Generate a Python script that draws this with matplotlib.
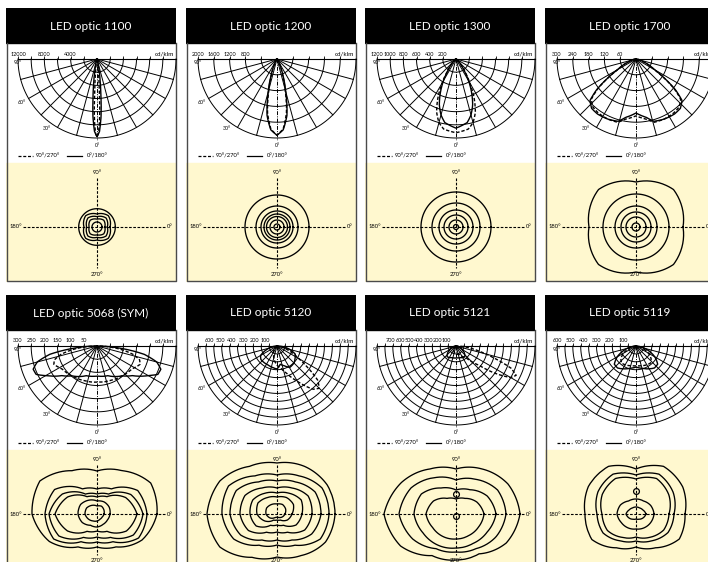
import numpy as np
import matplotlib.pyplot as plt
from matplotlib.patches import Rectangle

plt.rcParams['font.family'] = ['Lato', 'DejaVu Sans']

# ---------------- data ----------------
titles = ['LED optic 1100', 'LED optic 1200', 'LED optic 1300', 'LED optic 1700',
          'LED optic 5068 (SYM)', 'LED optic 5120', 'LED optic 5121', 'LED optic 5119']
ring_max = [12000, 2000, 1200, 300, 300, 700, 850, 600]
ring_step = [2000, 400, 200, 60, 50, 70, 85, 60]
ring_labels = [[12000, 8000, 4000], [2000, 1600, 1200, 800],
               [1200, 1000, 800, 600, 400, 200], [300, 240, 180, 120, 60],
               [300, 250, 200, 150, 100, 50], [600, 500, 400, 300, 200, 100],
               [700, 600, 500, 400, 300, 200, 100], [600, 500, 400, 300, 200, 100]]

# intensity curves, angle from nadir in degrees (cd/klm)
# symmetric ones are given for 0..90 only
s1100_a = [0, 2, 4, 6, 8, 11, 15, 20, 30, 90]
s1100_v = [11800, 11000, 8800, 5800, 3500, 1500, 500, 120, 20, 0]
d1100_a = [0, 1, 2, 3, 4, 5, 7, 10, 15, 90]
d1100_v = [11800, 11400, 10000, 8000, 5200, 3500, 1500, 400, 100, 0]

s1200_a = [0, 5, 10, 15, 20, 25, 30, 40, 90]
s1200_v = [1930, 1800, 1450, 850, 430, 200, 90, 25, 0]
d1200_a = [0, 5, 10, 15, 20, 25, 30, 40, 90]
d1200_v = [1930, 1780, 1380, 780, 380, 170, 70, 20, 0]

s1300_a = [0, 10, 15, 20, 25, 30, 35, 40, 50, 60, 90]
s1300_v = [1050, 980, 880, 740, 560, 380, 220, 120, 40, 10, 0]
d1300_a = [0, 10, 15, 20, 25, 30, 35, 40, 50, 60, 90]
d1300_v = [1120, 1080, 1000, 860, 650, 420, 240, 120, 35, 8, 0]

s1700_a = [0, 10, 16, 25, 35, 42, 48, 52, 56, 60, 70, 80, 90]
s1700_v = [205, 225, 246, 252, 255, 252, 235, 190, 130, 80, 28, 8, 0]
d1700_a = [0, 10, 16, 25, 35, 42, 48, 52, 56, 60, 70, 80, 90]
d1700_v = [216, 232, 250, 252, 250, 245, 228, 185, 128, 78, 28, 8, 0]

s5068_a = [0, 20, 40, 50, 60, 65, 70, 75, 80, 85, 90]
s5068_v = [114, 120, 148, 175, 225, 255, 258, 235, 182, 80, 0]
d5068_a = [0, 20, 40, 57, 67, 72, 77, 82, 87, 90]
d5068_v = [137, 140, 148, 159, 178, 170, 140, 90, 30, 0]

# asymmetric ones: -90 (left) .. 90 (right)
s5120_a = [-90, -75, -60, -50, -40, -25, -10, 0, 10, 20, 31, 45, 55, 66, 75, 85, 90]
s5120_v = [0, 71, 168, 186, 186, 186, 195, 204, 164, 186, 221, 213, 195, 177, 115, 44, 0]
d5120_a = [-90, -60, -45, -30, -20, -10, 0, 10, 20, 30, 40, 45, 50, 55, 60, 70, 80, 90]
d5120_v = [0, 15, 30, 60, 90, 130, 170, 200, 260, 360, 500, 530, 470, 330, 220, 100, 35, 0]

s5121_a = [-90, -70, -50, -40, -30, -20, 0, 20, 30, 40, 50, 70, 90]
s5121_v = [0, 43, 118, 150, 144, 133, 129, 133, 144, 150, 118, 43, 0]
d5121_a = [-90, -45, -20, 0, 20, 40, 50, 55, 60, 64, 68, 72, 76, 82, 90]
d5121_v = [0, 32, 64, 85, 96, 160, 320, 510, 680, 720, 640, 450, 300, 140, 0]

s5119_a = [0, 15, 30, 40, 50, 60, 70, 80, 90]
s5119_v = [160, 175, 200, 218, 215, 165, 100, 35, 0]
d5119_a = [0, 15, 30, 40, 50, 60, 70, 80, 90]
d5119_v = [150, 155, 165, 170, 150, 110, 55, 18, 0]

solid = [(s1100_a, s1100_v, True), (s1200_a, s1200_v, True), (s1300_a, s1300_v, True),
         (s1700_a, s1700_v, True), (s5068_a, s5068_v, True), (s5120_a, s5120_v, False),
         (s5121_a, s5121_v, False), (s5119_a, s5119_v, True)]
dashed = [(d1100_a, d1100_v, True), (d1200_a, d1200_v, True), (d1300_a, d1300_v, True),
          (d1700_a, d1700_v, True), (d5068_a, d5068_v, True), (d5120_a, d5120_v, False),
          (d5121_a, d5121_v, False), (d5119_a, d5119_v, True)]

# isolux contours: radius (px of the small diagram) at equally spaced angles,
# starting at 0deg (right) counter-clockwise
iso_1100 = [[18.3], [13, 16, 13, 16, 13, 16, 13, 16], [10.3, 12.8, 10.3, 12.8, 10.3, 12.8, 10.3, 12.8],
            [7.8, 9.6, 7.8, 9.6, 7.8, 9.6, 7.8, 9.6], [5]]
iso_1200 = [[32], [21], [16], [13], [10.5], [7], [3]]
iso_1300 = [[35], [24], [17], [12], [7], [2.5]]
iso_1700 = [[47, 53, 45, 53, 47, 53, 45, 53], [33], [21], [15], [10], [4]]
iso_5068 = [[60, 62, 50, 43, 50, 66, 65, 55, 38, 33, 38, 52],
            [50, 47, 29, 25, 29, 49, 52, 50, 32, 28, 32, 48],
            [46, 39, 23, 20, 23, 40, 48, 44, 27, 23, 27, 42],
            [40, 33, 20, 17, 20, 34, 42, 34, 20, 17, 20, 34],
            [13, 14, 14, 13, 16, 19, 19, 17, 13, 13, 12, 12],
            [7, 8, 9, 8, 10, 12, 12, 10, 8, 7, 6, 6]]
iso_5120 = [[58, 58, 55, 51, 55, 66, 70, 66, 50, 43, 48, 56],
            [52, 52, 44, 39, 44, 56, 55, 50, 36, 31, 36, 50],
            [44, 44, 37, 33, 37, 47, 47, 42, 30, 26, 30, 40],
            [35, 36, 30, 26, 30, 37, 37, 33, 21, 18, 21, 32],
            [25, 28, 24, 21, 24, 28, 27, 24, 13, 11, 13, 22],
            [15, 19, 19, 17, 19, 22, 20, 14, 7, 6, 7, 12],
            [8, 10, 11, 10, 11, 12, 11, 8, 4, 3, 4, 6]]
iso_5121 = [[64, 60, 52, 45, 52, 63, 72, 64, 48, 46, 46, 58],
            [50, 48, 40, 34, 42, 52, 57, 50, 40, 38, 40, 46],
            [40, 36, 28, 24, 30, 40, 42, 38, 36, 34, 34, 36],
            [28, 24, 18, 15, 18, 26, 30, 27, 26, 25, 25, 26]]
iso_5119 = [[49, 54, 55, 45, 55, 55, 51, 51, 39, 33, 39, 50],
            [38, 43, 46, 39, 46, 44, 39, 38, 31, 27, 31, 37],
            [33, 38, 41, 35, 41, 39, 34, 33, 27, 23, 27, 32],
            [18, 17, 15, 15, 15, 18, 19, 17, 16, 15, 16, 17],
            [10, 8, 7, 7, 7, 8, 10, 8, 6, 5, 6, 8]]
isolux = [iso_1100, iso_1200, iso_1300, iso_1700, iso_5068, iso_5120, iso_5121, iso_5119]
# small closed loops: (angle deg, radius px)
spots = [[], [], [], [], [], [], [(90, 20), (270, 2)], [(90, 23)]]

# ---------------- layout ----------------
W, H = 708, 562
PW, PH = 170, 274
col_x = [6, 186, 365, 545]
row_y = [8, 295]
CX, CY_TOP, R_TOP, CY_ISO = 91, 51, 79, 219
YELLOW = '#FFF8CF'
DASH = (2.4, 1.4)

fig = plt.figure(figsize=(W / 100, H / 100), dpi=100)


def px_axes(x, y, w, h, **kw):
    return fig.add_axes([x / W, 1 - (y + h) / H, w / W, h / H], **kw)


def smooth(line, steps=24):
    line.get_path()._interpolation_steps = steps


def full_curve(a, v, sym):
    a = np.asarray(a, float)
    v = np.asarray(v, float)
    if sym:
        a = np.concatenate([-a[::-1], a[1:]])
        v = np.concatenate([v[::-1], v[1:]])
    return np.radians(a), v


for i in range(8):
    x0, y0 = col_x[i % 4], row_y[i // 4]

    bg = px_axes(x0, y0, PW, PH)
    bg.set_xlim(0, PW)
    bg.set_ylim(PH, 0)
    bg.axis('off')
    bg.add_patch(Rectangle((0, 0), PW, 35, color='black'))
    bg.add_patch(Rectangle((0, 155), PW, PH - 155, color=YELLOW))
    bg.plot([0.5, 0.5, PW - 0.5, PW - 0.5], [35, PH - 0.6, PH - 0.6, 35],
            color='#4a4a4a', lw=1.0, clip_on=False)
    bg.text(PW / 2, 18, titles[i], color='white', ha='center', va='center', fontsize=8.5)

    rmax = ring_max[i]
    rings = np.arange(1, int(round(rmax / ring_step[i])) + 1) * ring_step[i]
    # scale labels
    for lab in ring_labels[i]:
        bg.text(CX - lab / rmax * R_TOP, 46, str(lab), ha='center', va='center', fontsize=4.0)
    bg.text(PW - 2, 46, 'cd/klm', ha='right', va='center', fontsize=4.5)
    for r in rings:
        rp = r / rmax * R_TOP
        bg.vlines([CX - rp, CX + rp], CY_TOP - 3, CY_TOP, color='k', lw=0.6)
    bg.text(7.5, 55, '90°', ha='left', va='center', fontsize=3.8)
    bg.text(12, 94, '60°', ha='left', va='center', fontsize=3.8)
    bg.text(37, 120, '30°', ha='left', va='center', fontsize=3.8)
    bg.text(CX, 137.5, '0°', ha='center', va='center', fontsize=3.8)

    # legend
    bg.plot([12, 27], [148, 148], color='k', lw=0.9, dashes=DASH)
    bg.text(30, 148, '90°/270°', ha='left', va='center', fontsize=4.2)
    bg.plot([61, 76], [148, 148], color='k', lw=0.9)
    bg.text(81, 148, '0°/180°', ha='left', va='center', fontsize=4.2)

    # isolux cross
    bg.plot([CX - 74, CX + 68], [CY_ISO, CY_ISO], color='k', lw=0.8, dashes=DASH)
    bg.plot([CX, CX], [CY_ISO - 49, CY_ISO + 41], color='k', lw=0.8, dashes=DASH)
    bg.text(CX, CY_ISO - 54, '90°', ha='center', va='center', fontsize=4.2)
    bg.text(CX, CY_ISO + 47, '270°', ha='center', va='center', fontsize=4.2)
    bg.text(4, CY_ISO, '180°', ha='left', va='center', fontsize=4.2)
    bg.text(161, CY_ISO, '0°', ha='left', va='center', fontsize=4.2)

    # polar intensity diagram
    Rb = 82
    pax = px_axes(x0 + CX - Rb, y0 + CY_TOP - Rb, 2 * Rb, 2 * Rb, projection='polar')
    pax.set_theta_zero_location('S')
    pax.set_rlim(0, rmax * Rb / R_TOP)
    pax.axis('off')
    th = np.radians(np.linspace(-90, 90, 91))
    for r in rings:
        pax.plot(th, np.full_like(th, r), color='k', lw=0.7)
    for a in (15, 30, 45, 60, 75):
        for s in (-1, 1):
            pax.plot([np.radians(s * a)] * 2, [0, rmax], color='k', lw=0.7)
    for s in (-1, 1):
        pax.plot([np.radians(s * 90)] * 2, [0, rmax], color='k', lw=0.8)
    pax.plot([0, 0], [0, rmax * 1.035], color='k', lw=0.7, dashes=(4, 1.3, 1, 1.3))

    t, v = full_curve(*solid[i])
    ln, = pax.plot(t, v, color='k', lw=1.0)
    smooth(ln)
    t, v = full_curve(*dashed[i])
    ln, = pax.plot(t, v, color='k', lw=1.0, dashes=DASH)
    smooth(ln)

    # isolux diagram
    Rc = 80
    cax = px_axes(x0 + CX - Rc, y0 + CY_ISO - Rc, 2 * Rc, 2 * Rc, projection='polar')
    cax.set_rlim(0, Rc)
    cax.axis('off')
    for vals in isolux[i]:
        n = len(vals)
        if n == 1:
            tt = np.radians(np.linspace(0, 360, 73))
            rr = np.full_like(tt, vals[0])
        else:
            tt = np.radians(np.arange(n + 1) * 360 / n)
            rr = list(vals) + [vals[0]]
        ln, = cax.plot(tt, rr, color='k', lw=0.95)
        smooth(ln, 30)
    for ang, rad in spots[i]:
        cax.plot(np.radians(ang), rad, 'o', ms=4.2, mfc='none', mec='k', mew=0.9)

fig.savefig('out.png', dpi=100)
